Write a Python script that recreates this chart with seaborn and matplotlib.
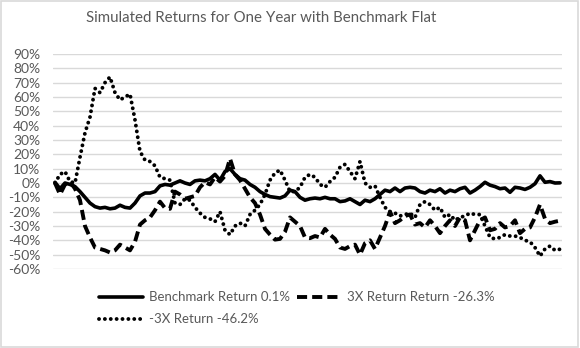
import matplotlib
matplotlib.use("Agg")
import matplotlib.pyplot as plt
import seaborn as sns
import pandas as pd
import numpy as np
from matplotlib.patches import Rectangle
from matplotlib.ticker import FuncFormatter

benchmark = [0.5, -4, 0, -1, -2.5, -6, -10, -14, -16.5, -17.5, -17, -18, -17.5, -15.5, -17, -17.5,
             -14, -9, -7, -7, -6, -2, -1, -1.5, 0, 1.5, 0, -1, 1.5, 2, 1.5, 3, 6, 2, 8, 10,
             6, 3, 2, -1, -3, -6, -8, -9.5, -10, -10.5, -9, -5, -6, -10, -12, -11, -10.5, -11,
             -10, -11, -11, -13, -12.5, -11, -13, -15, -12, -13, -11, -8, -5, -6, -3.5, -6,
             -3.5, -3, -3.5, -6, -7, -5, -6, -4, -7, -5, -6, -4, -3, -7, -5, -2.5, 0.5, -1.5,
             -2.5, -4, -3.5, -6.5, -3, -3.5, -4.5, -3, -0.5, 5, 0.5, 1, 0, 0.1]

lev3x = [0, -8, -1, 1, -4, -12, -30, -38, -45, -46, -47, -48.5, -47, -43, -45, -47,
         -41, -29, -26, -24, -19, -13, -17.5, -18, -6, -8, -11, -10, -9, -3, 0.5, -1, 4, 1, 5, 17,
         6, 2, -4, -10, -14, -22, -32, -36, -39.5, -39, -34, -24, -27, -30, -38, -38.5, -37, -38,
         -32, -36, -39, -45, -46, -44, -43, -50, -42, -40, -46, -38, -30, -20, -28, -26,
         -23, -22, -29, -28, -31, -26, -30, -35, -30, -26, -30, -24, -26, -40, -33, -26, -24, -33,
         -32, -28, -31, -30, -26, -35, -32, -31, -24, -15, -25, -28, -27, -26.3]

inv3x = [0, 6, 8, 1, 0, 18, 35, 46, 66, 63, 70, 74, 63, 58, 60, 62,
         44, 22, 16, 15, 12, 4, 3, 2, -14, -15, -11, -12, -17, -21, -24, -25, -27, -20, -33, -36,
         -30, -28, -30, -22, -19, -15, -8, 2, 7, 9, 2, -6, -6, -3, 4, 6, 4, -1,
         -3, 1, 4, 11, 13, 8, 3, 15, 0, -3, -2, -10, -17, -20, -21, -23,
         -22, -21, -24, -15, -13, -15, -19, -17, -24, -22, -26, -24, -23, -21, -22, -22, -30, -38,
         -39, -38, -36, -37, -37, -38, -40, -41, -45, -51, -46, -44, -47, -46.2]

labels = ["Benchmark Return 0.1%", "3X Return Return -26.3%", "-3X Return -46.2%"]
yticks = list(range(-60, 100, 10))

days = np.arange(len(benchmark))

sns.set_theme(style="white")
plt.rcParams['font.family'] = ['Lato', 'DejaVu Sans']

fig = plt.figure(figsize=(5.8, 3.48), dpi=100)
fig.patches.append(Rectangle((0.002, 0.003), 0.995, 0.994, transform=fig.transFigure,
                             fill=False, edgecolor="#d9d9d9", linewidth=1.2))
ax = fig.add_axes([53/580, 1-269/348, (562-53)/580, (269-54)/348])

sns.lineplot(x=days, y=benchmark, ax=ax, color="black", linewidth=2.6,
             solid_capstyle="round", label=labels[0])
sns.lineplot(x=days, y=lev3x, ax=ax, color="black", linewidth=2.8,
             linestyle=(0, (2.6, 1.3)), dash_capstyle="butt", label=labels[1])
sns.lineplot(x=days, y=inv3x, ax=ax, color="black", linewidth=2.8,
             linestyle=(0, (0.01, 1.5)), dash_capstyle="round", label=labels[2])

ax.set_xlim(-0.4, len(benchmark) - 1 + 0.4)
ax.set_ylim(-60, 90)
ax.set_yticks(yticks)
ax.yaxis.set_major_formatter(FuncFormatter(lambda v, p: f"{int(v)}%"))
ax.set_xticks([])
ax.grid(axis="y", color="#d9d9d9", linewidth=1)
ax.set_axisbelow(True)
for s in ax.spines.values():
    s.set_visible(False)
ax.tick_params(axis="y", length=0, pad=9, labelsize=10, labelcolor="#595959")
ax.set_xlabel("")
ax.set_ylabel("")

fig.text(0.451, 0.947, "Simulated Returns for One Year with Benchmark Flat",
         ha="center", va="center", fontsize=10.8, color="#595959")

h, l = ax.get_legend_handles_labels()
order = [0, 2, 1]
leg = ax.legend([h[i] for i in order], [l[i] for i in order], ncol=2,
                loc="upper left", bbox_to_anchor=(94/580, 0.178), bbox_transform=fig.transFigure,
                frameon=False, fontsize=9.5, handlelength=3.3, handletextpad=0.5,
                columnspacing=0.5, labelspacing=0.75, borderaxespad=0)
for t in leg.get_texts():
    t.set_color("#595959")

fig.savefig("out.png", dpi=100)
